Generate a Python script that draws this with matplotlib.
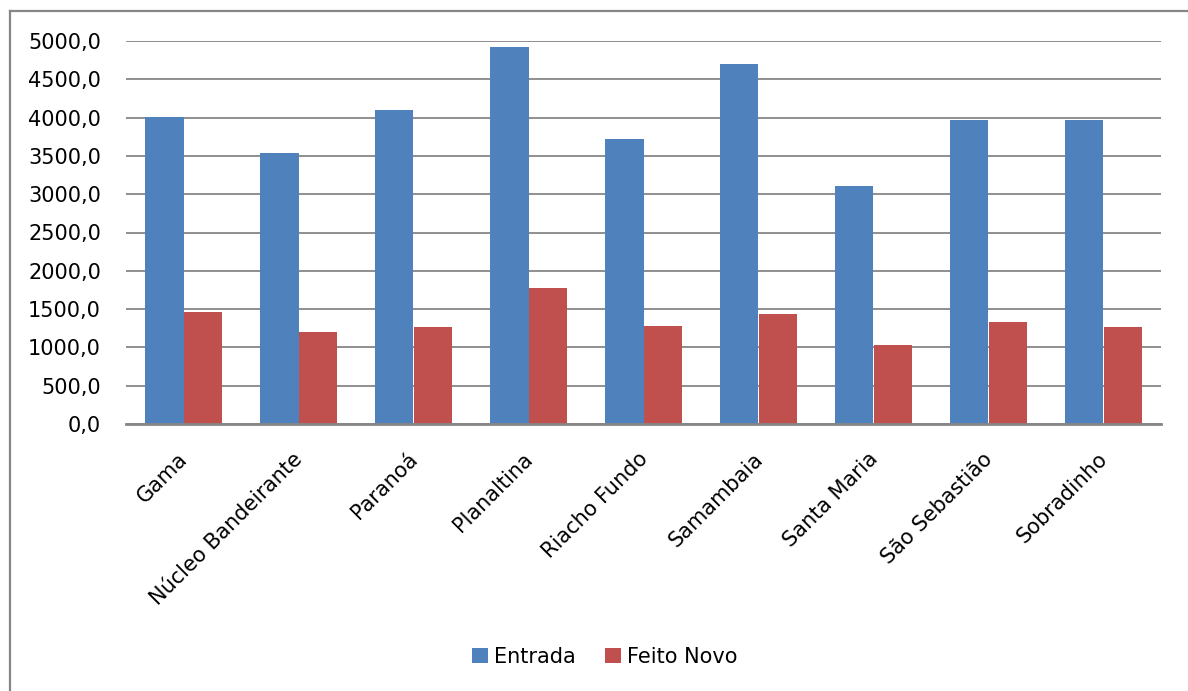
import numpy as np
import matplotlib.pyplot as plt
from matplotlib.lines import Line2D
from matplotlib.transforms import ScaledTranslation

# dados por região administrativa
regioes = ['Gama', 'Núcleo Bandeirante', 'Paranoá', 'Planaltina', 'Riacho Fundo',
           'Samambaia', 'Santa Maria', 'São Sebastião', 'Sobradinho']
entrada = [4005, 3535, 4095, 4918, 3717, 4696, 3103, 3965, 3965]
feito_novo = [1458, 1197, 1262, 1771, 1276, 1432, 1027, 1328, 1262]
yticks = np.arange(0, 5001, 500)

azul = '#4F81BD'
vermelho = '#C0504D'
cinza = '#868686'

plt.rcParams['font.family'] = 'DejaVu Sans'

fig = plt.figure(figsize=(11.88, 6.91), dpi=100)
ax = fig.add_axes([126/1188, 1-424/691, (1161-126)/1188, (424-41)/691])

x = np.arange(len(regioes))
w = 1/3
ax.bar(x - w/2, entrada, w, color=azul, label='Entrada', zorder=3)
ax.bar(x + w/2, feito_novo, w, color=vermelho, label='Feito Novo', zorder=3)

ax.set_xlim(-0.5, len(regioes) - 0.5)
ax.set_ylim(0, 5000)
ax.set_yticks(yticks)
ax.yaxis.set_major_formatter(plt.FuncFormatter(lambda v, p: ('%.1f' % v).replace('.', ',')))
ax.grid(axis='y', color=cinza, lw=1.3, zorder=0)
ax.tick_params(axis='y', length=0, pad=18, labelsize=15)
ax.tick_params(axis='x', length=0, pad=18, labelsize=15)

ax.set_xticks(x)
ax.set_xticklabels(regioes, rotation=45, ha='right', va='top', rotation_mode='anchor')
desloc = ScaledTranslation(-6/100, 0, fig.dpi_scale_trans)
for lab in ax.get_xticklabels():
    lab.set_transform(lab.get_transform() + desloc)

for s in ['top', 'right', 'left']:
    ax.spines[s].set_visible(False)
ax.spines['bottom'].set_color(cinza)
ax.spines['bottom'].set_linewidth(2)
ax.spines['bottom'].set_zorder(4)

# moldura do gráfico (só topo e esquerda aparecem)
fig.add_artist(Line2D([10/1188, 1], [1-11/691, 1-11/691], color=cinza, lw=1.6, transform=fig.transFigure))
fig.add_artist(Line2D([10/1188, 10/1188], [0, 1-11/691], color=cinza, lw=1.6, transform=fig.transFigure))

fig.legend(loc='center', bbox_to_anchor=(605/1188, 1-657/691), ncol=2, frameon=False,
           fontsize=15, handlelength=0.75, handleheight=0.75, handletextpad=0.3, columnspacing=1.4)

fig.savefig('out.png', dpi=100, facecolor='white')
